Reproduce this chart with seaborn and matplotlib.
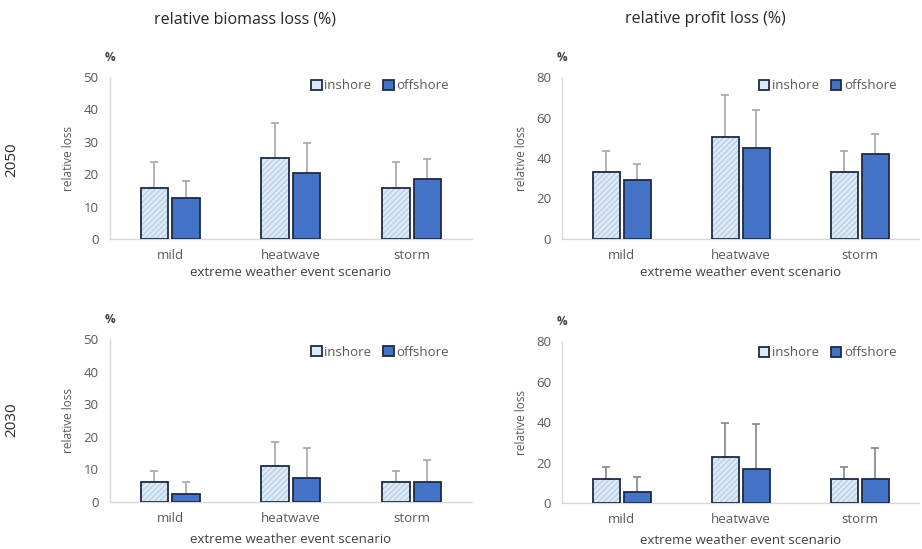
import pandas as pd
import matplotlib
matplotlib.use("Agg")
import matplotlib.pyplot as plt
from matplotlib.patches import Patch, Rectangle
import seaborn as sns

# scenario categories and sites
scenarios = ['mild', 'heatwave', 'storm']
sites = ['inshore', 'offshore']

# relative biomass loss (%)
biomass_2050_in = [15.7, 25.0, 15.7]
biomass_2050_off = [12.7, 20.3, 18.5]
biomass_2050_in_err = [8.1, 10.8, 8.1]
biomass_2050_off_err = [5.3, 9.2, 6.3]

biomass_2030_in = [6.1, 11.0, 6.1]
biomass_2030_off = [2.4, 7.5, 6.1]
biomass_2030_in_err = [3.5, 7.4, 3.5]
biomass_2030_off_err = [3.6, 9.1, 6.9]

# relative profit loss (%)
profit_2050_in = [33.0, 50.5, 33.0]
profit_2050_off = [29.0, 45.0, 42.0]
profit_2050_in_err = [10.5, 20.5, 10.5]
profit_2050_off_err = [7.8, 18.5, 10.0]

profit_2030_in = [11.8, 22.8, 11.8]
profit_2030_off = [5.3, 17.0, 12.0]
profit_2030_in_err = [6.2, 16.8, 6.2]
profit_2030_off_err = [7.4, 22.0, 15.0]

col_titles = ['relative biomass loss (%)', 'relative profit loss (%)']
row_labels = ['2050', '2030']

sns.set_theme(style='white')
plt.rcParams['font.family'] = ['Open Sans', 'DejaVu Sans']
plt.rcParams['hatch.linewidth'] = 0.6

colors = {'inshore': '#DCE9F6', 'offshore': '#4472C4'}
edge = '#1E2B45'
grey_txt = '#595959'

fig = plt.figure(figsize=(9.22, 5.49), dpi=100)

panels = [
    # (rect, ins, off, ins_err, off_err, ymax, step, err colour, xlabel pad, legend y)
    ([0.119, 0.5647, 0.393, 0.295], biomass_2050_in, biomass_2050_off,
     biomass_2050_in_err, biomass_2050_off_err, 50, 10, '#A6A6A6', 3, 1.06),
    ([0.610, 0.5647, 0.387, 0.295], profit_2050_in, profit_2050_off,
     profit_2050_in_err, profit_2050_off_err, 80, 20, '#A6A6A6', 3, 1.06),
    ([0.119, 0.0856, 0.393, 0.297], biomass_2030_in, biomass_2030_off,
     biomass_2030_in_err, biomass_2030_off_err, 50, 10, '#A6A6A6', 6, 1.03),
    ([0.610, 0.0838, 0.387, 0.295], profit_2030_in, profit_2030_off,
     profit_2030_in_err, profit_2030_off_err, 80, 20, '#858585', 6, 1.04),
]

for rect, ins, off, ins_err, off_err, ymax, step, ecol, xpad, ly in panels:
    ax = fig.add_axes(rect)
    df = pd.DataFrame({
        'scenario': scenarios * 2,
        'site': ['inshore'] * 3 + ['offshore'] * 3,
        'loss': ins + off,
    })
    sns.barplot(data=df, x='scenario', y='loss', hue='site', order=scenarios,
                hue_order=sites, palette=colors, saturation=1, width=0.52, gap=0.12,
                errorbar=None, linewidth=0, legend=False, ax=ax)

    for cont, errs, site in zip(ax.containers, [ins_err, off_err], sites):
        for bar, e in zip(cont, errs):
            if site == 'inshore':
                bar.set_hatch('//////')
                bar.set_edgecolor('#A9BFDC')
            # dark outline drawn on top of the bar
            ax.add_patch(Rectangle(bar.get_xy(), bar.get_width(), bar.get_height(),
                                   fill=False, edgecolor=edge, linewidth=1.3,
                                   zorder=3))
            x = bar.get_x() + bar.get_width() / 2
            ax.errorbar(x, bar.get_height(), yerr=[[0], [e]], color=ecol,
                        linewidth=1.2, capsize=3, capthick=1.2, zorder=1)

    ax.set_xlim(-0.5, 2.5)
    ax.set_ylim(0, ymax)
    ax.set_yticks(range(0, ymax + 1, step))
    sns.despine(ax=ax)
    for s in ['left', 'bottom']:
        ax.spines[s].set_color('#D9D9D9')
        ax.spines[s].set_linewidth(1.0)
    ax.tick_params(axis='y', colors=grey_txt, labelsize=9.5, length=0, pad=8)
    ax.tick_params(axis='x', colors=grey_txt, labelsize=9.5, length=0, pad=7)
    ax.set_ylabel('relative loss', fontsize=8.5, color=grey_txt, labelpad=6)
    ax.set_xlabel('extreme weather event scenario', fontsize=9.5, color='#404040',
                  labelpad=xpad)
    ax.text(0.0, 1.12, '%', transform=ax.transAxes, fontsize=8.5,
            fontweight='bold', color='#404040', ha='center', va='center')

    handles = [Patch(facecolor=colors['inshore'], edgecolor=edge, linewidth=1.3),
               Patch(facecolor=colors['offshore'], edgecolor=edge, linewidth=1.3)]
    leg = ax.legend(handles, sites, loc='upper right', bbox_to_anchor=(0.97, ly),
                    ncol=2, frameon=False, fontsize=9.5, handlelength=0.8,
                    handleheight=0.8, handletextpad=0.2, columnspacing=0.9)
    for t in leg.get_texts():
        t.set_color(grey_txt)

fig.text(0.266, 0.965, col_titles[0], fontsize=11.5, ha='center', va='center')
fig.text(0.765, 0.965, col_titles[1], fontsize=11.5, ha='center', va='center')
fig.text(0.013, 0.71, row_labels[0], fontsize=11, rotation=90, ha='center', va='center')
fig.text(0.013, 0.235, row_labels[1], fontsize=11, rotation=90, ha='center', va='center')

fig.savefig('out.png', dpi=100)
